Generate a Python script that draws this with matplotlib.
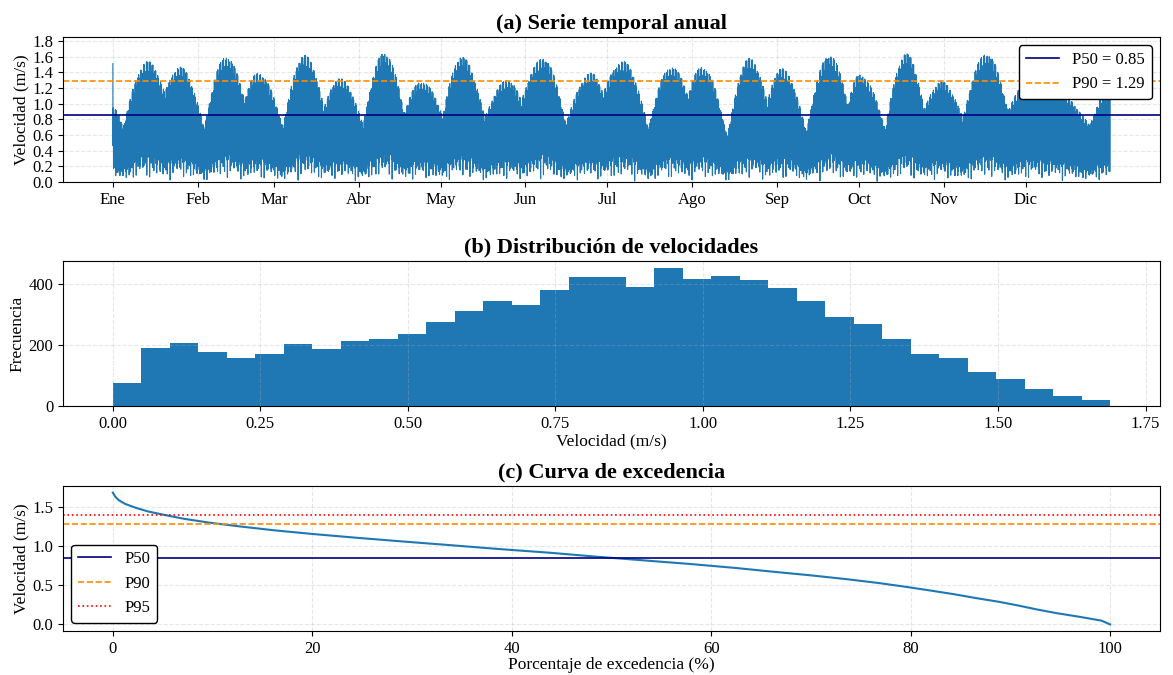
import numpy as np
import pandas as pd
import matplotlib
matplotlib.use('Agg')
import matplotlib.pyplot as plt

plt.rcParams['font.family'] = 'serif'
plt.rcParams['font.serif'] = ['Liberation Serif', 'DejaVu Serif']

# ---- data ----
# (a) upper envelope of the hourly tidal current (day of year, m/s)
env_days = [0, 3.8, 12.9, 19.0, 24.5, 33.4, 41.5, 48.2, 53.1, 62.3, 70.2, 77.3,
            83.0, 91.6, 99.3, 106.6, 112.9, 120.8, 127.6, 136.1, 144.6, 149.5,
            157.5, 165.8, 175.2, 179.4, 186.7, 195.9, 204.4, 210.5, 215.6, 224.9,
            233.0, 239.5, 244.6, 253.8, 262.3, 269.0, 273.3, 282.7, 290.4, 297.0,
            303.2, 311.1, 319.7, 327.6, 337.0, 357.5, 365.0]
env_vals = [0.96, 0.71, 1.56, 1.15, 1.49, 0.69, 1.62, 1.07, 1.41, 0.71, 1.64, 0.96,
            1.34, 0.73, 1.67, 0.90, 1.30, 0.86, 1.62, 0.83, 1.32, 1.05,
            1.60, 0.75, 1.41, 1.15, 1.56, 0.69, 1.49, 1.13, 1.49, 0.58,
            1.60, 1.03, 1.47, 0.65, 1.64, 1.01, 1.39, 0.69, 1.66, 0.94,
            1.30, 0.82, 1.66, 0.92, 1.38, 0.73, 1.20]
first_value = 1.51
# tidal carrier: semidiurnal period, diurnal inequality, minor-axis ratio
tide_period_h = 12.42
diurnal_period_h = 24.84
minor_period_h = 25.82
minor_ratio = 0.15
month_labels = ['Ene', 'Feb', 'Mar', 'Abr', 'May', 'Jun', 'Jul', 'Ago', 'Sep',
                'Oct', 'Nov', 'Dic']

# (b) histogram counts, 35 bins from 0 to 1.69 m/s
v_max = 1.69
counts = [76, 190, 207, 176, 157, 172, 204, 188, 212, 220, 237, 276, 310, 344,
          331, 379, 424, 424, 391, 453, 418, 427, 412, 387, 345, 293, 268, 220,
          169, 157, 110, 90, 57, 32, 19]

# percentiles
p50, p90, p95 = 0.85, 1.29, 1.40

# ---- build hourly series ----
hours = np.arange(8760)
time = pd.date_range('2023-01-01', periods=len(hours), freq='h')

# envelope: rounded at the high node, sharp at the low node of each segment
d = hours / 24.0
ed = np.array(env_days)
ev = np.array(env_vals)
i = np.clip(np.searchsorted(ed, d, side='right') - 1, 0, len(ed) - 2)
f = (d - ed[i]) / (ed[i + 1] - ed[i])
rising = ev[i + 1] > ev[i]
s = np.where(rising, np.sin(np.pi * f / 2), 1 - np.cos(np.pi * f / 2))
env = ev[i] + (ev[i + 1] - ev[i]) * s

theta = 2 * np.pi * hours / tide_period_h
amp = env * (0.95 + 0.05 * np.cos(2 * np.pi * hours / diurnal_period_h))
minor = minor_ratio * env * np.abs(np.sin(2 * np.pi * hours / minor_period_h))
vel = np.sqrt((amp * np.sin(theta)) ** 2 + (minor * np.cos(theta)) ** 2)
vel[0] = first_value

edges = np.linspace(0, v_max, len(counts) + 1)
centers = (edges[:-1] + edges[1:]) / 2
counts = np.array(counts)
above = np.concatenate([np.cumsum(counts[::-1])[::-1], [0]])
exceed_pct = above / counts.sum() * 100

# ---- figure ----
fig = plt.figure(figsize=(11.73, 6.75), dpi=100)
W, H = 1173, 675
def add_ax(top, bottom, left=63, right=1160):
    return fig.add_axes([left / W, 1 - bottom / H, (right - left) / W, (bottom - top) / H])

ax1 = add_ax(37, 182)
ax2 = add_ax(261, 406)
ax3 = add_ax(486, 631)

title_kw = dict(fontsize=16, fontweight='bold')
lab = 12.5
tick = 12

# (a)
ax1.plot(time, vel, color='#1f77b4', lw=0.8)
ax1.axhline(p50, color='navy', lw=1.2, label=f'P50 = {p50:.2f}')
ax1.axhline(p90, color='darkorange', ls='--', lw=1.2, label=f'P90 = {p90:.2f}')
ax1.set_ylim(0, 1.85)
ax1.set_yticks(np.arange(0, 1.81, 0.2))
month_starts = pd.date_range('2023-01-01', periods=12, freq='MS')
ax1.set_xticks(month_starts)
ax1.set_xticklabels(month_labels)
ax1.set_ylabel('Velocidad (m/s)', fontsize=lab, labelpad=2)
ax1.set_title('(a) Serie temporal anual', **title_kw)
ax1.legend(loc='upper right', fontsize=12, edgecolor='black', framealpha=1)

# (b)
ax2.hist(centers, bins=edges, weights=counts, color='#1f77b4')
ax2.set_xlabel('Velocidad (m/s)', fontsize=lab, labelpad=1)
ax2.set_ylabel('Frecuencia', fontsize=lab, labelpad=2)
ax2.set_title('(b) Distribución de velocidades', **title_kw)

# (c)
ax3.plot(exceed_pct, edges, color='#1f77b4', lw=1.5)
ax3.axhline(p50, color='navy', lw=1.2, label='P50')
ax3.axhline(p90, color='darkorange', ls='--', lw=1.2, label='P90')
ax3.axhline(p95, color='red', ls=':', lw=1.2, label='P95')
ax3.set_xlabel('Porcentaje de excedencia (%)', fontsize=lab, labelpad=0)
ax3.set_ylabel('Velocidad (m/s)', fontsize=lab, labelpad=2)
ax3.set_title('(c) Curva de excedencia', **title_kw)
ax3.legend(loc='lower left', fontsize=12, edgecolor='black', framealpha=1)

for ax in (ax1, ax2, ax3):
    ax.grid(True, linestyle='--', alpha=0.3)
    ax.tick_params(labelsize=tick)

fig.savefig('out.png', dpi=100)
